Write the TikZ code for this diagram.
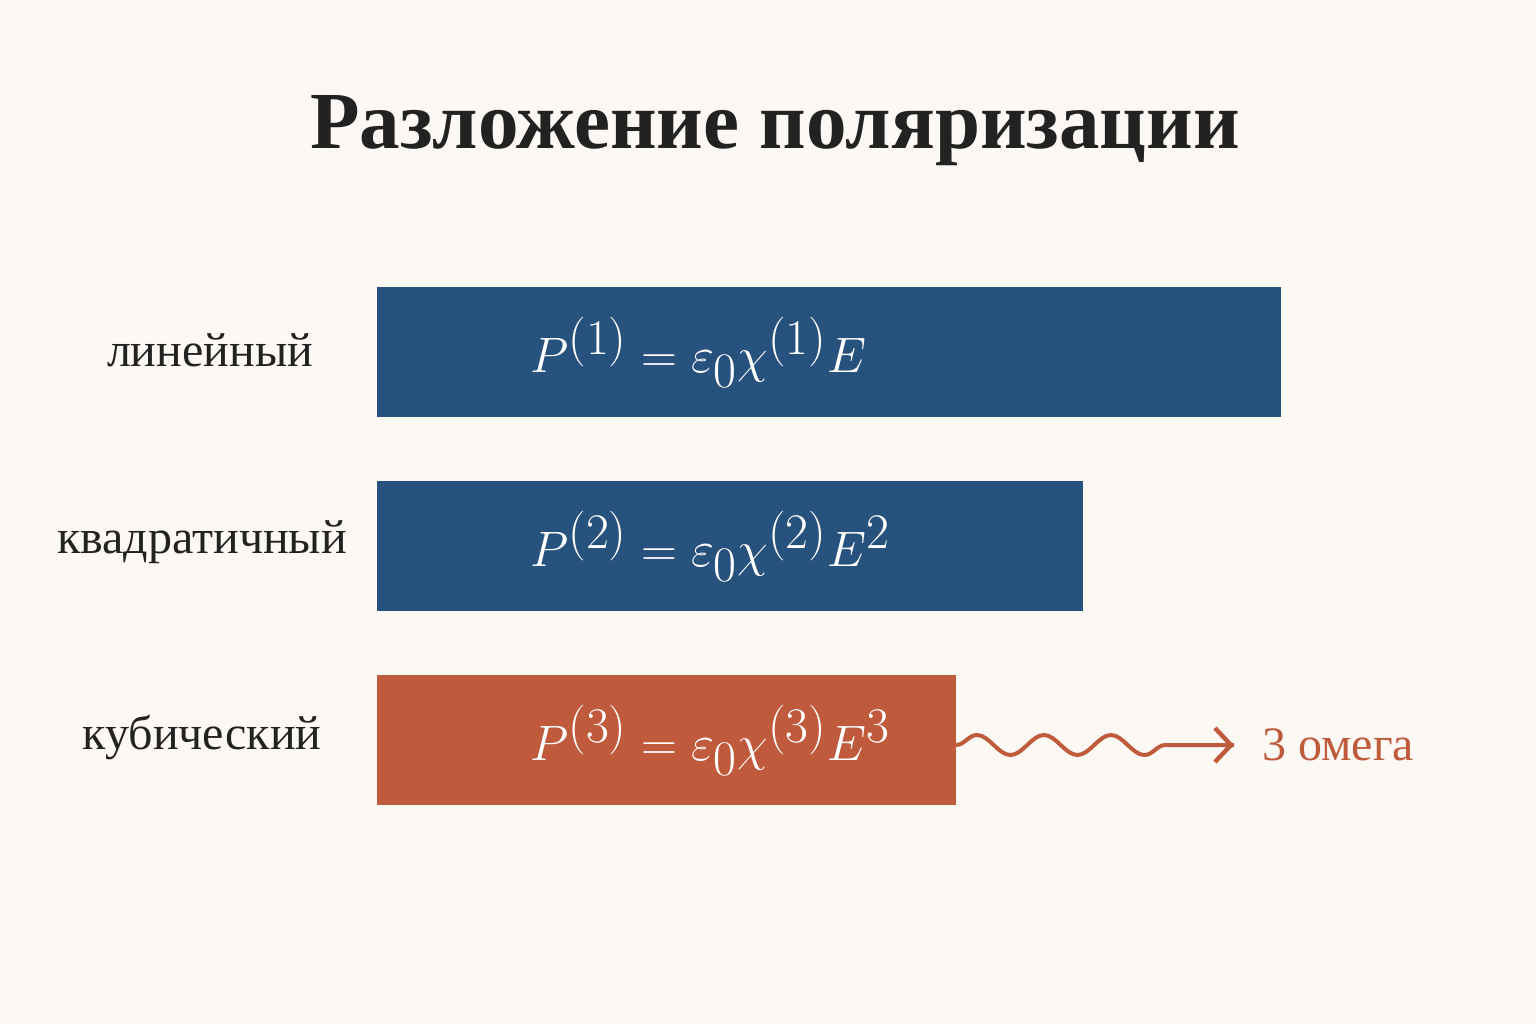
\documentclass[tikz,border=0pt]{standalone}
\usepackage{fontspec}
\setmainfont{Liberation Serif}
\usetikzlibrary{positioning}
\usetikzlibrary{arrows.meta}
\usetikzlibrary{decorations.pathmorphing}

\definecolor{paper}{HTML}{FCF8F3}
\definecolor{barblue}{HTML}{27527D}
\definecolor{barred}{HTML}{BF5B3C}
\definecolor{ink}{HTML}{222222}

\tikzset{
    bar/.style={anchor=west, minimum height=65pt, inner sep=0pt, outer sep=0pt, fill=#1},
    eq/.style={anchor=west, inner sep=0pt, text=white, font=\fontsize{34}{40}\selectfont},
    lbl/.style={text=ink, inner sep=0pt, font=\fontsize{24}{29}\selectfont},
    wave/.style={barred, line width=2pt,
        decoration={snake, segment length=33.5pt, amplitude=5pt, post length=30pt},
        decorate},
    tip/.style={-{Straight Barb[length=8pt, width=17pt, line width=2.2pt]}}
}

\begin{document}
\begin{tikzpicture}[x=0.5pt, y=-0.5pt]

% Page
\fill[paper] (0,0) rectangle (1536,1024);
\useasboundingbox (0,0) rectangle (1536,1024);

% Title
\node[text=ink, font=\fontsize{40.5}{48}\selectfont\bfseries] (title) at (775,131) {Разложение поляризации};

%%% Bars %%%

% Linear term
\node[bar=barblue, minimum width=452pt] (b1) at (377,352) {};
\node[eq, right=76.5pt of b1.west] (e1) {$P^{(1)} = \varepsilon_0\chi^{(1)}E$};
\node[lbl] (l1) at (210,350) {линейный};

% Quadratic term
\node[bar=barblue, minimum width=353pt, below=32pt of b1.south west, anchor=north west] (b2) {};
\node[eq, right=76.5pt of b2.west] (e2) {$P^{(2)} = \varepsilon_0\chi^{(2)}E^2$};
\node[lbl] (l2) at (202,542) {квадратичный};

% Cubic term
\node[bar=barred, minimum width=289.5pt, below=32pt of b2.south west, anchor=north west] (b3) {};
\node[eq, right=76.5pt of b3.west] (e3) {$P^{(3)} = \varepsilon_0\chi^{(3)}E^3$};
\node[lbl] (l3) at (202,737) {кубический};

% Third harmonic
\node[text=barred, inner sep=0pt, font=\fontsize{24}{29}\selectfont, anchor=west] (omega) at (1262,745) {3 омега};
\coordinate (w0) at (b3.east |- omega.west);
\coordinate (w1) at (1234,745);
\draw[wave] (w0) -- (w1);
\draw[barred, line width=2pt, tip] ([xshift=-30pt]w1) -- (w1);

\end{tikzpicture}
\end{document}
